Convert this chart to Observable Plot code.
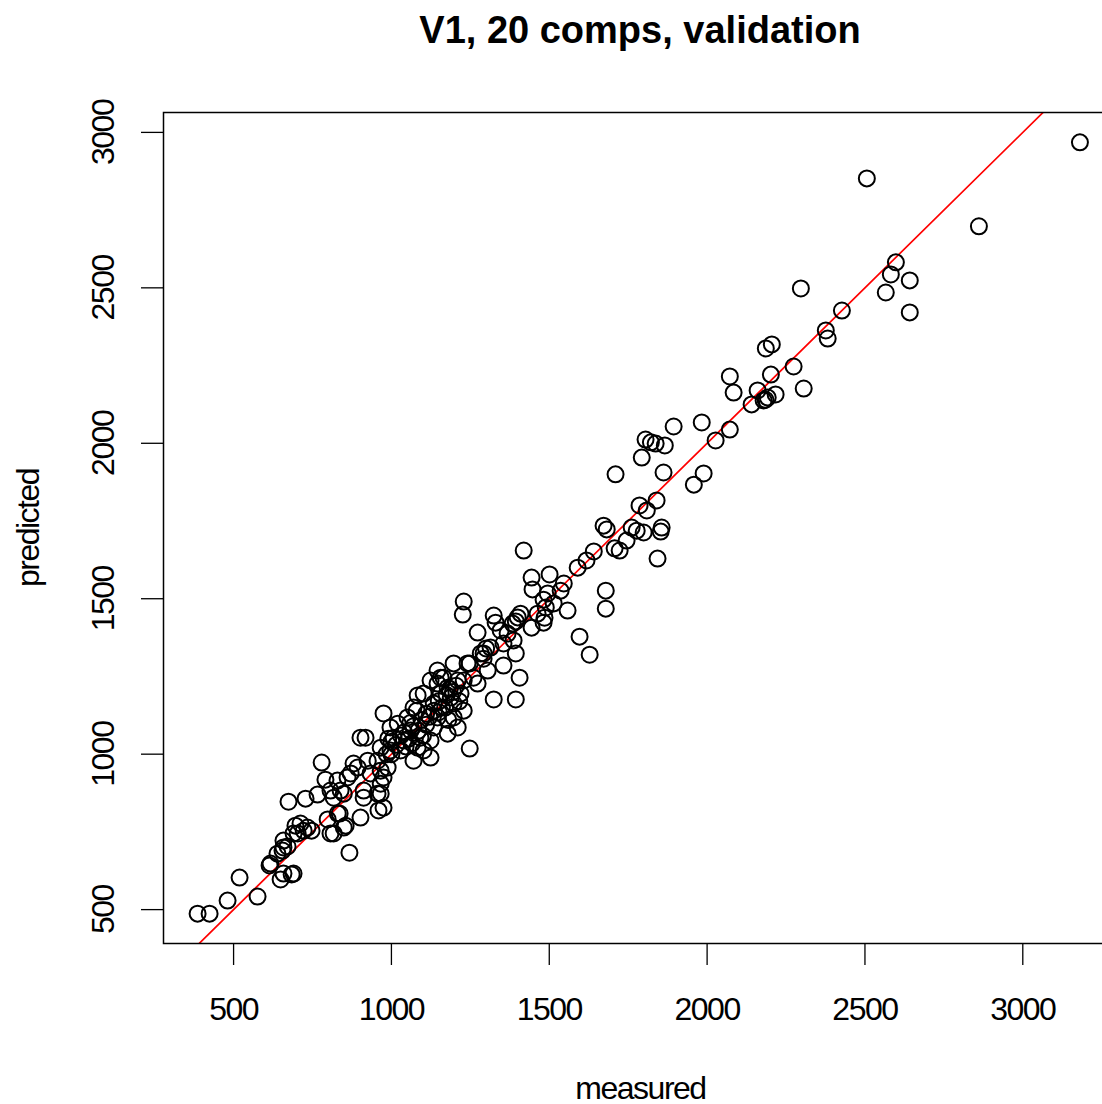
<!DOCTYPE html>
<html>
<head>
<meta charset="utf-8">
<script src="https://cdn.jsdelivr.net/npm/d3@7"></script>
<script src="https://cdn.jsdelivr.net/npm/@observablehq/plot@0.6"></script>
<style>
  html, body { margin: 0; padding: 0; background: #fff; overflow: hidden; width: 1102px; height: 1104px; }
  #title { position: absolute; left: 163px; top: 0; width: 954px; height: 60px; line-height: 60px;
           text-align: center; font-family: "Liberation Sans", Arial, sans-serif; font-weight: bold; font-size: 38px; color: #000; }
  #chart { position: absolute; left: 0; top: 60px; width: 1117px; }
  #chart svg { max-width: none !important; }
</style>
</head>
<body>
<div id="title">V1, 20 comps, validation</div>
<div id="chart"></div>
<script>
const measured = [
  3181, 2506, 2861, 2598, 2582, 2642, 2566, 2642, 2297, 2427, 2376, 2382, 2186, 2205, 2274, 2202, 2072, 2084, 2160, 2217, 2306, 2141, 2179, 2192, 2185,
  1894, 1983, 2072, 2027, 1805, 1822, 1837, 1866, 1793, 1710, 1862, 1989, 1958, 1840, 1786, 1809, 1682, 1723, 1745, 1761, 1799, 1856, 1853, 1843, 1777, 1707, 1672,
  1419, 1444, 1501, 1447, 1546, 1482, 1514, 1489, 1482, 1558, 1590, 1618, 1641, 1679, 1679, 1596, 1628, 1536, 1495, 1485, 1463,
  1229, 1226, 1324, 1330, 1409, 1400, 1444, 1384, 1394, 1273, 1314, 1355, 1368, 1394, 1355, 1406, 1324, 1394, 1197, 1248, 1292, 1300, 1260, 1229, 1346, 1387, 1305, 1273, 1283, 1292, 1248, 1241,
  1146, 1156, 1178, 1210, 1219, 1229, 1197, 1210, 1178, 1146, 1134, 1124, 1092, 1083, 1039, 1007, 997, 1020, 1051, 1061, 1029, 997, 966, 956, 925, 880, 861, 966, 966, 912, 956, 839, 1070, 1102, 1124, 918, 975, 1083, 1070, 1080, 1165, 1146, 1124, 1102, 1156, 1188, 1197, 1134, 1060, 1040, 1000, 1110, 1170,
  1000, 1015, 1030, 1045, 1055, 1070, 1085, 1095, 1110, 1120, 1135, 1150, 1160, 1175, 1185, 1195, 1205, 985, 990, 1065, 1100, 1150, 1180, 1215,
  386, 424, 481, 519, 576, 614, 649, 684, 639, 655, 671, 696, 712, 690, 722, 747, 674, 728, 766, 779, 791, 798, 817, 849, 836, 855, 867, 817, 893, 902, 934, 871, 807, 912, 966, 975, 988, 975, 959, 902, 830, 849, 807, 734, 703, 658, 658, 617, 658, 690, 829
];
const predicted = [
  2968, 2852, 2698, 2582, 2543, 2524, 2485, 2421, 2498, 2427, 2363, 2337, 2305, 2318, 2247, 2221, 2215, 2163, 2170, 2157, 2176, 2125, 2138, 2147, 2140,
  2054, 2067, 2044, 2009, 2012, 2003, 1999, 1993, 1954, 1900, 1906, 1903, 1867, 1816, 1800, 1784, 1723, 1655, 1687, 1729, 1713, 1729, 1716, 1629, 1719, 1662, 1735,
  1655, 1568, 1578, 1530, 1549, 1497, 1485, 1472, 1423, 1462, 1600, 1623, 1652, 1526, 1468, 1378, 1320, 1526, 1517, 1439, 1452,
  1491, 1449, 1446, 1423, 1452, 1440, 1407, 1420, 1427, 1391, 1343, 1356, 1388, 1324, 1285, 1246, 1176, 1176, 1292, 1292, 1324, 1340, 1246, 1237, 1398, 1366, 1269, 1227, 1324, 1307, 1018, 1292,
  1227, 1246, 1214, 1237, 1195, 1140, 1118, 1086, 1066, 1118, 1086, 1044, 1053, 1021, 1044, 1053, 1086, 1098, 1118, 1076, 1012, 1012, 1021, 979, 979, 970, 925, 947, 905, 883, 873, 883, 979, 1012, 989, 1053, 1131, 1189, 1150, 1140, 1246, 1269, 1237, 1195, 1195, 1182, 1163, 1163, 1100, 1070, 1040, 1130, 1150,
  1000, 1030, 1060, 1025, 1050, 1090, 1075, 1110, 1095, 1120, 1140, 1170, 1150, 1190, 1210, 1200, 1220, 1000, 1050, 1035, 1060, 1135, 1110, 1170,
  487, 487, 529, 603, 542, 642, 597, 613, 680, 690, 703, 770, 777, 745, 754, 754, 847, 857, 870, 973, 918, 790, 745, 873, 809, 770, 683, 860, 957, 1053, 938, 938, 883, 860, 873, 925, 957, 828, 819, 796, 809, 764, 745, 764, 745, 722, 700, 648, 616, 616, 915
];
const xTicks = [500, 1000, 1500, 2000, 2500, 3000];
const yTicks = [500, 1000, 1500, 2000, 2500, 3000];
const xDomain = [278, 3300];
const yDomain = [391, 3064];
const xLabel = "measured";
const yLabel = "predicted";

const points = measured.map((m, i) => ({measured: m, predicted: predicted[i]}));
const identity = [Math.min(xDomain[0], yDomain[0]), Math.max(xDomain[1], yDomain[1])];

const tickFont = '"Liberation Sans Narrow", "Liberation Sans", Arial, sans-serif';

const chart = Plot.plot({
  width: 1117,
  height: 1044,
  marginLeft: 163,
  marginRight: 0,
  marginTop: 52,
  marginBottom: 161,
  style: {fontFamily: tickFont, fontSize: "32px", color: "#000", background: "#fff", overflow: "visible", maxWidth: "none", letterSpacing: "-1.5px"},
  x: {domain: xDomain, ticks: xTicks},
  y: {domain: yDomain, ticks: yTicks},
  marks: [
    Plot.axisX({ticks: xTicks, tickSize: 22, tickPadding: 32, tickFormat: d => String(d), stroke: "#000", strokeWidth: 1.3, fontSize: 32, label: null}),
    Plot.axisY({ticks: yTicks, tickSize: 22, tickFormat: () => "", stroke: "#000", strokeWidth: 1.3, label: null}),
    Plot.text(yTicks, {y: d => d, text: d => String(d), frameAnchor: "left", dx: -60, rotate: -90, textAnchor: "middle", lineAnchor: "middle", fontSize: 32, fill: "#000"}),
    Plot.line(identity, {x: d => d, y: d => d, stroke: "#ff0000", strokeWidth: 1.7, clip: true}),
    Plot.dot(points, {x: "measured", y: "predicted", r: 8, stroke: "#000", strokeWidth: 2, fill: "none"}),
    Plot.frame({stroke: "#000", strokeWidth: 1.5}),
    Plot.text([xLabel], {text: d => d, frameAnchor: "bottom", dy: 145, lineAnchor: "middle", fontSize: 32, fill: "#000"}),
    Plot.text([yLabel], {text: d => d, frameAnchor: "left", dx: -135, rotate: -90, lineAnchor: "middle", textAnchor: "middle", fontSize: 32, fill: "#000"})
  ]
});
document.getElementById("chart").appendChild(chart);
</script>
</body>
</html>
